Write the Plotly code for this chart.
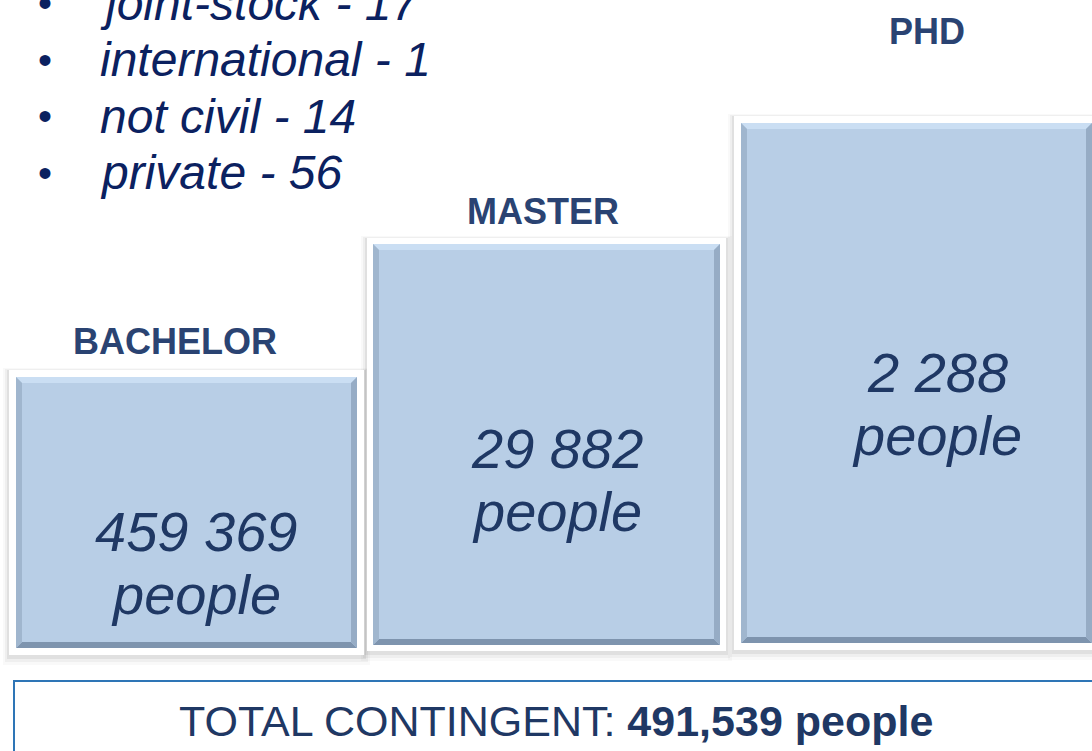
import plotly.graph_objects as go

# ---------------- data ----------------
levels = ["BACHELOR", "MASTER", "PHD"]
people = [459369, 29882, 2288]
university_types = ["joint-stock", "international", "not civil", "private"]
university_counts = [17, 1, 14, 56]
total_people = sum(people)

# ---------------- layout geometry (pixel space) ----------------
W, H = 1092, 751
box_x0 = [16, 373, 741]
box_x1 = [357, 720, 1092]
box_y0 = [377, 244, 123]
box_y1 = [648, 645, 643]
frame_pad = [7, 6, 7]          # white frame thickness around each box
label_pos = [(175, 341), (543, 211), (927, 31)]
value_pos = [(196, 531), (557, 448), (937, 372)]
line_gap = 63

FONT = "Arial, 'Liberation Sans', sans-serif"
BOX_FILL = "#B8CEE6"
TEXT_DARK = "#1F3864"
BULLET_COL = "#0B2160"

fig = go.Figure()

# frames (white) and boxes (blue) as bars in pixel coordinates
fx = [(a + b) / 2 for a, b in zip(box_x0, box_x1)]
fw = [(b - a) for a, b in zip(box_x0, box_x1)]
fig.add_trace(go.Bar(
    x=fx, width=[w + 2 * p for w, p in zip(fw, frame_pad)],
    base=[y0 - p for y0, p in zip(box_y0, frame_pad)],
    y=[(y1 - y0) + 2 * p for y0, y1, p in zip(box_y0, box_y1, frame_pad)],
    marker=dict(color="white", line=dict(width=0)),
    hoverinfo="skip", showlegend=False))
fig.add_trace(go.Bar(
    x=fx, width=fw, base=box_y0,
    y=[y1 - y0 for y0, y1 in zip(box_y0, box_y1)],
    customdata=people,
    marker=dict(color=BOX_FILL, line=dict(width=0)),
    hovertemplate="%{customdata}<extra></extra>", showlegend=False))

shapes = []
# soft drop shadows behind frames
for x0, x1, y0, y1, p in zip(box_x0, box_x1, box_y0, box_y1, frame_pad):
    for grow, dy, a in [(6, 4, 0.025), (4, 3, 0.04), (2, 2, 0.06)]:
        shapes.append(dict(type="rect", layer="below", xref="x", yref="y",
                           x0=x0 - p - grow, x1=x1 + p + grow,
                           y0=y0 - p - grow + dy, y1=y1 + p + grow + dy,
                           fillcolor=f"rgba(0,0,0,{a})", line=dict(width=0)))

# bevel edges
b = 6
for x0, x1, y0, y1 in zip(box_x0, box_x1, box_y0, box_y1):
    bev = [
        (f"M{x0},{y0} L{x1},{y0} L{x1-b},{y0+b} L{x0+b},{y0+b} Z", "#CADEF3"),
        (f"M{x0},{y1} L{x1},{y1} L{x1-b},{y1-b} L{x0+b},{y1-b} Z", "#7E94AE"),
        (f"M{x0},{y0} L{x0+b},{y0+b} L{x0+b},{y1-b} L{x0},{y1} Z", "#A0B6CE"),
        (f"M{x1},{y0} L{x1-b},{y0+b} L{x1-b},{y1-b} L{x1},{y1} Z", "#96ACC5"),
    ]
    for path, col in bev:
        shapes.append(dict(type="path", path=path, layer="above", xref="x", yref="y",
                           fillcolor=col, line=dict(width=0)))

# total box
shapes.append(dict(type="rect", layer="above", xref="x", yref="y",
                   x0=14, x1=W + 10, y0=681, y1=H + 10,
                   fillcolor="rgba(0,0,0,0)", line=dict(color="#2E75B6", width=2)))

annotations = []
for lab, (lx, ly) in zip(levels, label_pos):
    annotations.append(dict(x=lx, y=ly, text=f"<b>{lab}</b>", showarrow=False,
                            xref="x", yref="y", xanchor="center", yanchor="middle",
                            font=dict(family=FONT, size=36, color="#2A4372")))
for v, (vx, vy) in zip(people, value_pos):
    annotations.append(dict(x=vx, y=vy, text=f"<i>{v:,}</i>".replace(",", " "),
                            showarrow=False, xref="x", yref="y",
                            xanchor="center", yanchor="middle",
                            font=dict(family=FONT, size=56, color=TEXT_DARK)))
    annotations.append(dict(x=vx, y=vy + line_gap, text="<i>people</i>",
                            showarrow=False, xref="x", yref="y",
                            xanchor="center", yanchor="middle",
                            font=dict(family=FONT, size=56, color=TEXT_DARK)))

bullet_y0, bullet_gap = 3, 56.5
for i, (t, c) in enumerate(zip(university_types, university_counts)):
    y = bullet_y0 + i * bullet_gap
    annotations.append(dict(x=45, y=y, text="•", showarrow=False, xref="x", yref="y",
                            xanchor="center", yanchor="middle",
                            font=dict(family=FONT, size=40, color=BULLET_COL)))
    annotations.append(dict(x=98, y=y, text=f"<i>{t} - {c}</i>", showarrow=False,
                            xref="x", yref="y", xanchor="left", yanchor="middle",
                            font=dict(family=FONT, size=48, color=BULLET_COL)))

annotations.append(dict(x=556, y=721,
                        text=f"TOTAL CONTINGENT: <b>{total_people:,} people</b>",
                        showarrow=False, xref="x", yref="y",
                        xanchor="center", yanchor="middle",
                        font=dict(family=FONT, size=43, color=TEXT_DARK)))

fig.update_layout(
    width=W, height=H, margin=dict(l=0, r=0, t=0, b=0),
    paper_bgcolor="white", plot_bgcolor="white",
    barmode="overlay", bargap=0,
    xaxis=dict(range=[0, W], visible=False, fixedrange=True),
    yaxis=dict(range=[H, 0], visible=False, fixedrange=True),
    shapes=shapes, annotations=annotations, showlegend=False,
)
fig.write_html("out.html", config={"displayModeBar": False},
               post_script="document.body.style.margin='0';document.body.style.overflow='hidden';")
